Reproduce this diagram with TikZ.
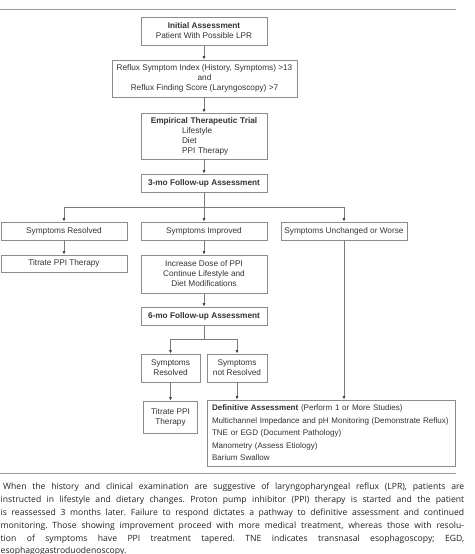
\documentclass[tikz,border=0pt]{standalone}
\usepackage{fontspec}
\setmainfont{Liberation Sans}
\newfontfamily\capfont{Open Sans}
\usetikzlibrary{arrows.meta}
\definecolor{boxc}{HTML}{8C8C8C}
\definecolor{linec}{HTML}{7A7A7A}
\definecolor{txt}{HTML}{333333}
\definecolor{rulec}{HTML}{9A9A9A}
\definecolor{captxt}{HTML}{222222}
\definecolor{tipc}{HTML}{444444}
\frenchspacing
\begin{document}
\begin{tikzpicture}[x=1pt,y=-1pt,
  box/.style={draw=boxc,line width=0.7pt,inner sep=0pt,text=txt,align=center,
    font=\fontsize{8.25}{10}\selectfont},
  conn/.style={draw=linec,line width=0.8pt},
  arr/.style={conn,-{Latex[length=3.5pt,width=3pt,color=tipc]}},
  capline/.style={anchor=base west,inner sep=0pt,text=captxt,
    font=\capfont\fontsize{8.6}{10}\selectfont\frenchspacing}]
\useasboundingbox (0,0) rectangle (474,554);
\fill[white] (0,0) rectangle (474,554);
% rules
\draw[rulec,line width=1pt] (0,9) -- (456,9);
\draw[rulec,line width=1pt] (0,473) -- (456,473);
% boxes
\node[box,minimum width=126pt,minimum height=28pt] (init) at (204,31)
  {\textbf{Initial Assessment}\\Patient With Possible LPR};
\node[box,minimum width=185pt,minimum height=37pt] (rsi) at (204.5,78.5)
  {Reflux Symptom Index (History, Symptoms) >13\\and\\Reflux Finding Score (Laryngoscopy) >7};
\node[box,minimum width=126pt,minimum height=46pt,text width=126pt,align=left] (emp) at (204,136)
  {\makebox[126pt][c]{\textbf{Empirical Therapeutic Trial}}\\\hspace*{41pt}Lifestyle\\\hspace*{41pt}Diet\\\hspace*{41pt}PPI Therapy};
\node[box,minimum width=126pt,minimum height=18pt] (m3) at (204,183)
  {\textbf{3-mo Follow-up Assessment}};
\node[box,minimum width=126pt,minimum height=18pt] (res) at (64,231) {Symptoms Resolved};
\node[box,minimum width=126pt,minimum height=18pt] (imp) at (204,231) {Symptoms Improved};
\node[box,minimum width=126pt,minimum height=18pt] (unch) at (344,231) {Symptoms Unchanged or Worse};
\node[box,minimum width=126pt,minimum height=17pt] (tit) at (64,263.5) {Titrate PPI Therapy};
\node[box,minimum width=126pt,minimum height=38pt] (inc) at (204,274)
  {Increase Dose of PPI\\Continue Lifestyle and\\Diet Modifications};
\node[box,minimum width=126pt,minimum height=18pt] (m6) at (204,316)
  {\textbf{6-mo Follow-up Assessment}};
\node[box,minimum width=59pt,minimum height=28pt] (res2) at (170.5,368) {Symptoms\\Resolved};
\node[box,minimum width=60pt,minimum height=28pt] (nres) at (237,368) {Symptoms\\not Resolved};
\node[box,minimum width=54pt,minimum height=32pt] (tit2) at (170.5,417) {Titrate PPI\\Therapy};
\node[box,text width=238pt,inner xsep=5pt,minimum height=66pt,align=left,
  font=\fontsize{8.05}{12.5}\selectfont] (def) at (331,433)
  {\textbf{Definitive Assessment} (Perform 1 or More Studies)\\
   Multichannel Impedance and pH Monitoring (Demonstrate Reflux)\\
   TNE or EGD (Document Pathology)\\
   Manometry (Assess Etiology)\\
   Barium Swallow};
% connectors
\draw[arr] (init.south) -- (init.south |- rsi.north);
\draw[arr] (rsi.south -| init.south) -- (emp.north);
\draw[arr] (emp) -- (m3);
\coordinate (j3) at (204,207);
\draw[conn] (m3.south) -- (j3);
\draw[arr] (j3) -| (res.north);
\draw[arr] (j3) -| (unch.north);
\draw[arr] (j3) -- (imp.north);
\draw[arr] (res) -- (tit);
\draw[arr] (imp) -- (inc);
\draw[arr] (inc) -- (m6);
\coordinate (j6) at (204,339);
\draw[conn] (m6.south) -- (j6);
\draw[arr] (j6) -| (res2.north);
\draw[arr] (j6) -| (nres.north);
\draw[arr] (res2.south) -- (res2.south |- tit2.north);
\draw[arr] (nres.south) -- (nres.south |- def.north);
\draw[arr] (unch.south) -- (unch.south |- def.north);
% caption
\node[capline] (c1) at (3,489) {\makebox[461pt][s]{When the history and clinical examination are suggestive of laryngopharyngeal reflux (LPR), patients are}};
\node[capline] (c2) at (0.5,502) {\makebox[463.5pt][s]{instructed in lifestyle and dietary changes. Proton pump inhibitor (PPI) therapy is started and the patient}};
\node[capline] (c3) at (0.5,515) {\makebox[463.5pt][s]{is reassessed 3 months later. Failure to respond dictates a pathway to definitive assessment and continued}};
\node[capline] (c4) at (0.5,528) {\makebox[463.5pt][s]{monitoring. Those showing improvement proceed with more medical treatment, whereas those with resolu-}};
\node[capline] (c5) at (0.5,541) {\makebox[463.5pt][s]{tion of symptoms have PPI treatment tapered. TNE indicates transnasal esophagoscopy; EGD,}};
\node[capline] (c6) at (0.5,553) {esophagogastroduodenoscopy.};
\end{tikzpicture}
\end{document}
